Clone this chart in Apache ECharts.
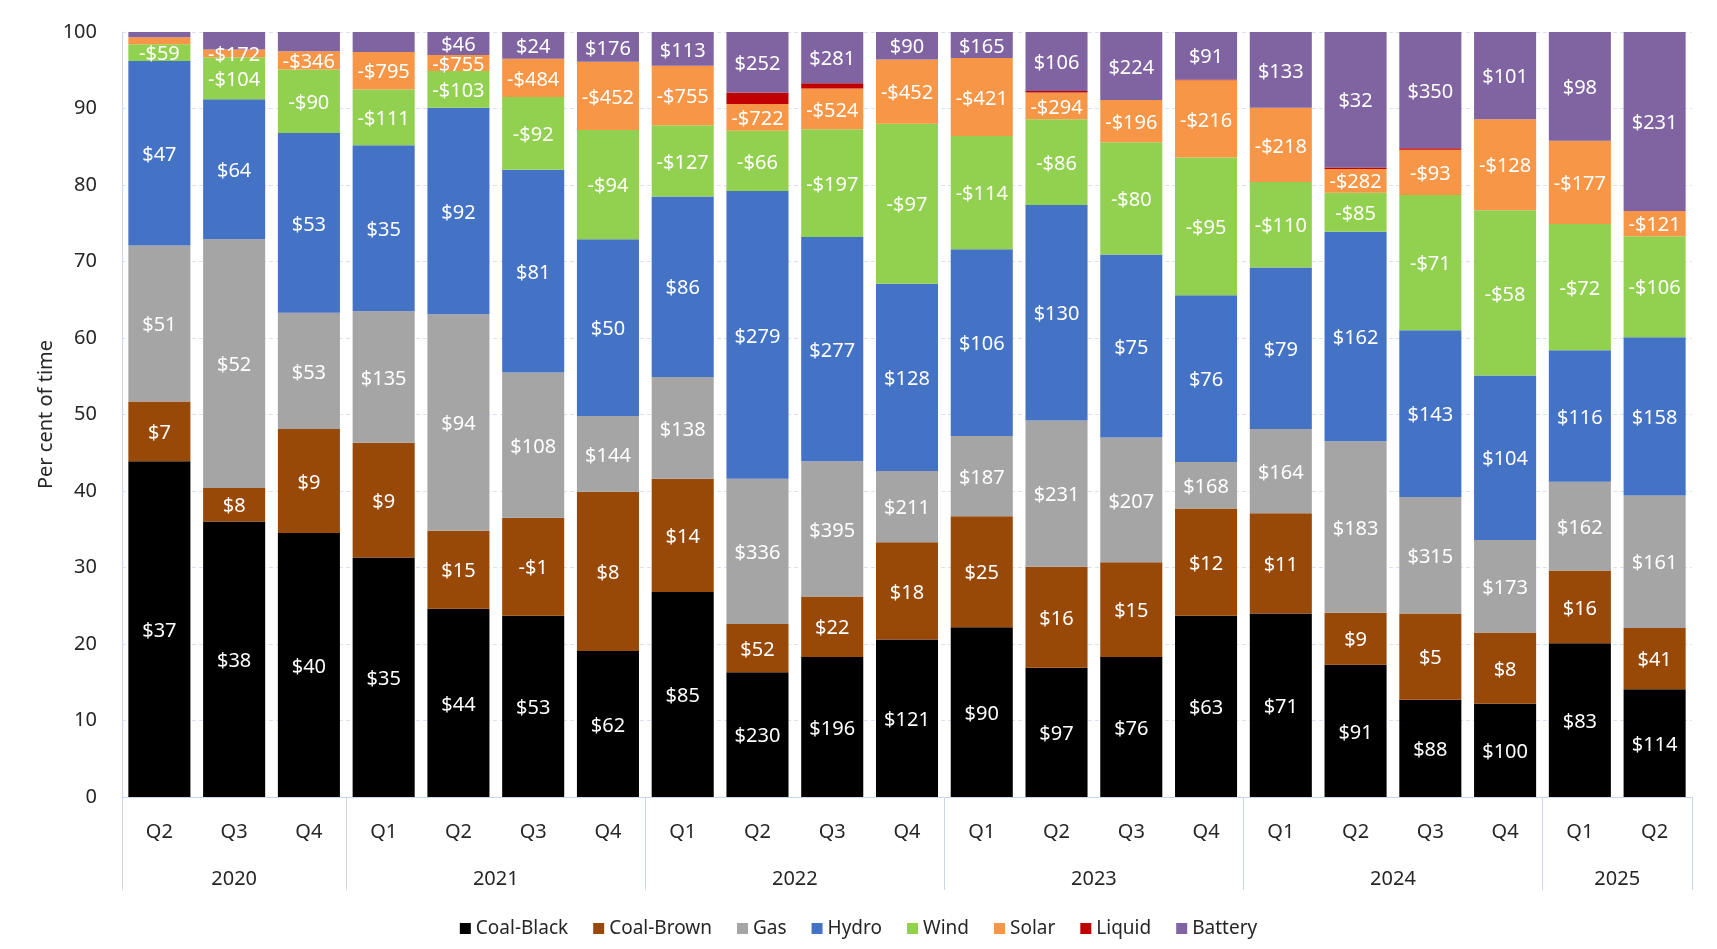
<!DOCTYPE html>
<html>
<head>
<meta charset="utf-8">
<script src="https://cdn.jsdelivr.net/npm/echarts@6/dist/echarts.min.js"></script>
<style>
html,body{margin:0;padding:0;background:#fff;}
#chart{width:1717px;height:949px;}
</style>
</head>
<body>
<div id="chart"></div>
<script>
// Categories
var quarters = ['Q2','Q3','Q4','Q1','Q2','Q3','Q4','Q1','Q2','Q3','Q4','Q1','Q2','Q3','Q4','Q1','Q2','Q3','Q4','Q1','Q2'];
var years = ['2020','2021','2022','2023','2024','2025'];
var yearStartIndex = [0, 3, 7, 11, 15, 19];
var yearEndIndex = [3, 7, 11, 15, 19, 21];
var seriesNames = ['Coal-Black','Coal-Brown','Gas','Hydro','Wind','Solar','Liquid','Battery'];

// Per cent of time (stack heights)
var coalBlack = [43.9,36.0,34.5,31.3,24.6,23.7,19.1,26.8,16.3,18.3,20.6,22.2,16.9,18.3,23.7,24.0,17.3,12.7,12.2,20.1,14.1];
var coalBrown = [7.8,4.4,13.6,15.0,10.2,12.8,20.8,14.8,6.3,7.9,12.7,14.5,13.2,12.4,14.0,13.1,6.8,11.3,9.3,9.5,8.0];
var gas       = [20.4,32.5,15.2,17.2,28.3,19.0,9.9,13.3,19.0,17.7,9.3,10.5,19.1,16.3,6.1,11.0,22.4,15.2,12.1,11.6,17.3];
var hydro     = [24.1,18.3,23.5,21.7,27.0,26.5,23.1,23.6,37.6,29.3,24.5,24.4,28.2,23.9,21.8,21.1,27.4,21.8,21.5,17.2,20.7];
var wind      = [2.2,5.5,8.3,7.3,4.8,9.5,14.3,9.3,7.9,14.1,20.9,14.8,11.2,14.7,18.0,11.2,5.1,17.7,21.6,16.5,13.2];
var solar     = [0.9,1.0,2.4,4.9,2.1,5.0,8.9,7.8,3.5,5.3,8.4,10.2,3.5,5.5,10.1,9.7,3.1,5.9,11.9,10.9,3.3];
var liquid    = [0,0,0,0,0,0,0,0,1.5,0.7,0,0,0.2,0,0.1,0,0.2,0.2,0,0,0];
var battery   = [0.7,2.3,2.5,2.6,3.0,3.5,3.9,4.4,7.9,6.7,3.6,3.4,7.7,8.9,6.2,9.9,17.7,15.2,11.4,14.2,23.4];

// Price labels
var coalBlackLbl = ['$37','$38','$40','$35','$44','$53','$62','$85','$230','$196','$121','$90','$97','$76','$63','$71','$91','$88','$100','$83','$114'];
var coalBrownLbl = ['$7','$8','$9','$9','$15','-$1','$8','$14','$52','$22','$18','$25','$16','$15','$12','$11','$9','$5','$8','$16','$41'];
var gasLbl       = ['$51','$52','$53','$135','$94','$108','$144','$138','$336','$395','$211','$187','$231','$207','$168','$164','$183','$315','$173','$162','$161'];
var hydroLbl     = ['$47','$64','$53','$35','$92','$81','$50','$86','$279','$277','$128','$106','$130','$75','$76','$79','$162','$143','$104','$116','$158'];
var windLbl      = ['-$59','-$104','-$90','-$111','-$103','-$92','-$94','-$127','-$66','-$197','-$97','-$114','-$86','-$80','-$95','-$110','-$85','-$71','-$58','-$72','-$106'];
var solarLbl     = ['','-$172','-$346','-$795','-$755','-$484','-$452','-$755','-$722','-$524','-$452','-$421','-$294','-$196','-$216','-$218','-$282','-$93','-$128','-$177','-$121'];
var liquidLbl    = ['','','','','','','','','','','','','','','','','','','','',''];
var batteryLbl   = ['','','','','$46','$24','$176','$113','$252','$281','$90','$165','$106','$224','$91','$133','$32','$350','$101','$98','$231'];

var seriesData = [coalBlack, coalBrown, gas, hydro, wind, solar, liquid, battery];
var seriesLabels = [coalBlackLbl, coalBrownLbl, gasLbl, hydroLbl, windLbl, solarLbl, liquidLbl, batteryLbl];
var colors = ['#000000','#984807','#A5A5A5','#4472C4','#92D050','#F79646','#C00000','#8064A2'];

var FONT = 'Noto Sans';
var axisBlue = '#C9D7EC';

// year label positions on a value scale: centre of each year's span of quarters
var yearCenters = {};
years.forEach(function(y, i){ yearCenters[(yearStartIndex[i] + yearEndIndex[i]) / 2] = y; });
var boundaries = yearStartIndex.slice();

var series = seriesNames.map(function(name, k){
  return {
    name: name,
    type: 'bar',
    stack: 'total',
    xAxisIndex: 0,
    yAxisIndex: 0,
    barCategoryGap: '17%',
    data: seriesData[k],
    itemStyle: { color: colors[k] },
    label: {
      show: name !== 'Liquid',
      position: 'inside',
      offset: [0, 2],
      color: '#ffffff',
      fontSize: 20,
      fontFamily: FONT,
      formatter: function(p){ return seriesLabels[k][p.dataIndex] || ''; }
    },
    emphasis: { disabled: true }
  };
});

var chart = echarts.init(document.getElementById('chart'));
chart.setOption({
  animation: false,
  color: colors,
  textStyle: { fontFamily: FONT },
  grid: { left: 122, right: 25, top: 32, bottom: 152, containLabel: false },
  legend: {
    data: seriesNames,
    left: 'center',
    top: 914,
    icon: 'rect',
    itemWidth: 11,
    itemHeight: 11,
    itemGap: 25,
    textStyle: { fontSize: 19, color: '#262626', fontFamily: FONT }
  },
  xAxis: [
    {
      type: 'category',
      data: quarters,
      axisLine: { show: true, lineStyle: { color: axisBlue, width: 1 } },
      axisTick: {
        show: true,
        length: 93,
        interval: function(index){ return boundaries.indexOf(index) >= 0; },
        lineStyle: { color: axisBlue, width: 1 }
      },
      axisLabel: { margin: 25, fontSize: 20, color: '#262626', fontFamily: FONT, interval: 0 },
      splitLine: { show: false }
    },
    {
      type: 'value',
      min: 0,
      max: quarters.length,
      interval: 0.5,
      position: 'bottom',
      offset: 47,
      axisLine: { show: false },
      axisTick: { show: false },
      splitLine: { show: false },
      axisLabel: {
        margin: 25, fontSize: 20, color: '#262626', fontFamily: FONT,
        showMinLabel: true, showMaxLabel: true,
        formatter: function(v){ var key = Math.round(v * 2) / 2; return yearCenters[key] || ''; }
      }
    }
  ],
  yAxis: {
    type: 'value',
    min: 0,
    max: 100,
    interval: 10,
    name: 'Per cent of time',
    nameLocation: 'middle',
    nameGap: 66,
    nameMoveOverlap: false,
    nameTextStyle: { fontSize: 20, color: '#262626', fontFamily: FONT },
    axisLine: { show: true, lineStyle: { color: axisBlue } },
    axisTick: { show: false },
    axisLabel: { margin: 25, fontSize: 20, color: '#262626', fontFamily: FONT },
    splitLine: { show: true, lineStyle: { color: '#D8E2F1', type: [4, 3], width: 1 } }
  },
  series: series
});
</script>
</body>
</html>
